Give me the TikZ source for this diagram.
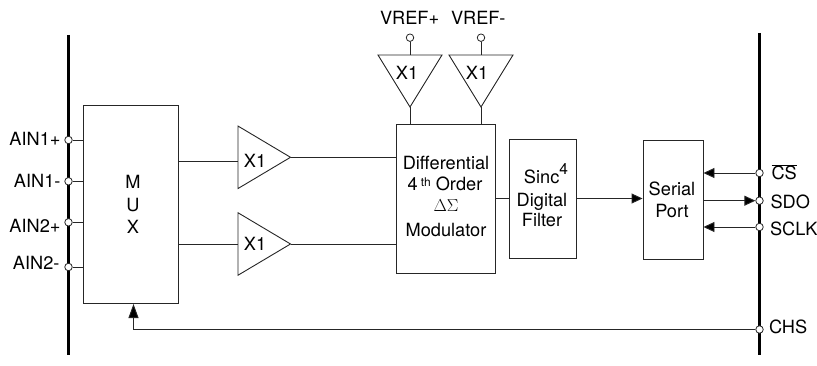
\documentclass[tikz,border=0pt]{standalone}
\usepackage{fontspec}
\setmainfont{TeX Gyre Heros}
\usetikzlibrary{shapes.geometric,arrows.meta}
\tikzset{
  every node/.style={font=\fontsize{18.2}{22}\selectfont},
  wire/.style={line width=0.9pt,black!85},
  sig/.style={wire,-{Triangle[length=11pt,width=10pt,fill=black]}},
  bar/.style={line width=3pt,black},
  pin/.style={circle,draw=black!85,fill=white,line width=0.8pt,minimum size=7.5pt,inner sep=0pt},
  block/.style={draw=black!85,line width=0.9pt,inner sep=0pt,align=center},
  amp/.style={isosceles triangle,isosceles triangle stretches,draw=black!85,line width=0.9pt,fill=white,inner sep=0pt,outer sep=0pt,minimum width=62.5pt,minimum height=52.5pt},
  refamp/.style={amp,shape border rotate=-90,minimum width=64pt,minimum height=52pt},
  txt/.style={inner sep=0pt,outer sep=0pt,anchor=base},
  lbl/.style={txt,anchor=base east},
  rlbl/.style={txt,anchor=base west},
}
\begin{document}
\begin{tikzpicture}[x=1pt,y=-1pt]
\useasboundingbox (0,0) rectangle (817,366);
% bus bars
\coordinate (lt) at (68.5,35);
\coordinate (lb) at (68.5,355);
\coordinate (rt) at (759.5,33);
\coordinate (rb) at (759.5,355);
\draw[bar] (lt) -- (lb);
\draw[bar] (rt) -- (rb);
% blocks
\node[block,minimum width=95pt,minimum height=198pt] (mux) at (130.5,204) {};
\node[txt] (muxt) at (133,189) {M};
\node[txt] (muxu) at (133,211.5) {U};
\node[txt] (muxx) at (133,234) {X};
\node[block,minimum width=98.5pt,minimum height=148.5pt] (mod) at (446,199) {};
\node[txt,align=center] (modt1) at (446,169.3) {Differential};
\node[txt] (modt2) at (445,190.7) {4\,\raisebox{4pt}{\fontsize{12}{12}\selectfont th} Order};
\node[txt] (modt3) at (446,211.7) {\fontsize{16}{16}\selectfont$\Delta\Sigma$};
\node[txt] (modt4) at (446,236.7) {Modulator};
\node[block,minimum width=67pt,minimum height=119pt] (sinc) at (542.5,198.5) {};
\node[txt] (st1) at (546,184) {Sinc\raisebox{9pt}{\fontsize{15.5}{15.5}\selectfont 4}};
\node[txt] (st2) at (542,207) {Digital};
\node[txt] (st3) at (542,227) {Filter};
\node[block,minimum width=60pt,minimum height=119pt] (port) at (673,199.5) {};
\node[txt] (pt1) at (672,196) {Serial};
\node[txt] (pt2) at (672,218) {Port};
% amplifiers
\node[amp,anchor=lower side] (a1) at (238,157.3) {};
\node[amp,anchor=lower side] (a2) at (238,244) {};
\node[txt] (a1t) at (255,167.7) {X1};
\node[txt] (a2t) at (255,250.7) {X1};
\node[refamp,anchor=apex] (r1) at (410,107) {};
\node[refamp,anchor=apex] (r2) at (481,107) {};
\node[txt] (r1t) at (407,80) {X1};
\node[txt] (r2t) at (477,80) {X1};
% pins
\node[pin] (p1) at (68.5,140) {};
\node[pin] (p2) at (68.5,181.3) {};
\node[pin] (p3) at (68.5,222.3) {};
\node[pin] (p4) at (68.5,267) {};
\node[pin] (vp) at (410,37.7) {};
\node[pin] (vm) at (481,37.7) {};
\node[pin] (cs) at (759.5,173) {};
\node[pin] (sdo) at (759.5,200.7) {};
\node[pin] (sclk) at (759.5,227) {};
\node[pin] (chs) at (759.5,329.5) {};
% connectors
\foreach \p in {p1,p2,p3,p4} \draw[wire] (\p) -- (\p -| mux.west);
\draw[wire] (mux.east |- 0,161) -- (a1.lower side |- 0,161);
\draw[wire] (mux.east |- a2.lower side) -- (a2.lower side);
\draw[wire] (a1.apex) -- (a1.apex -| mod.west);
\draw[wire] (a2.apex) -- (a2.apex -| mod.west);
\draw[wire] (vp) -- (r1.lower side);
\draw[wire] (vm) -- (r2.lower side);
\draw[wire] (r1.apex) -- (r1.apex |- mod.north);
\draw[wire] (r2.apex) -- (r2.apex |- mod.north);
\draw[wire] (mod.east |- sinc.center) -- (sinc.west);
\draw[sig] (sinc.east) -- (port.west |- sinc.east);
\draw[sig] (cs) -- (cs -| port.east);
\draw[sig] (port.east |- sdo) -- (sdo);
\draw[sig] (sclk) -- (sclk -| port.east);
\draw[wire,-{Triangle[length=14pt,width=10pt,fill=black]}] (chs) -| (133.5,304);
% pin labels
\node[lbl] (l1) at (60.5,145.7) {AIN1+};
\node[lbl] (l2) at (60.5,187.7) {AIN1-};
\node[lbl] (l3) at (60.5,232.7) {AIN2+};
\node[lbl] (l4) at (59.5,270) {AIN2-};
\node[txt,anchor=base west] (lvp) at (380,25) {VREF+};
\node[txt,anchor=base west] (lvm) at (451,25) {VREF-};
\node[rlbl] (lcs) at (771.5,179.7) {$\overline{\hbox{CS}}$};
\node[rlbl] (lsdo) at (770.5,208.7) {SDO};
\node[rlbl] (lsclk) at (770,235.3) {SCLK};
\node[rlbl] (lchs) at (769,334) {CHS};
\end{tikzpicture}
\end{document}
